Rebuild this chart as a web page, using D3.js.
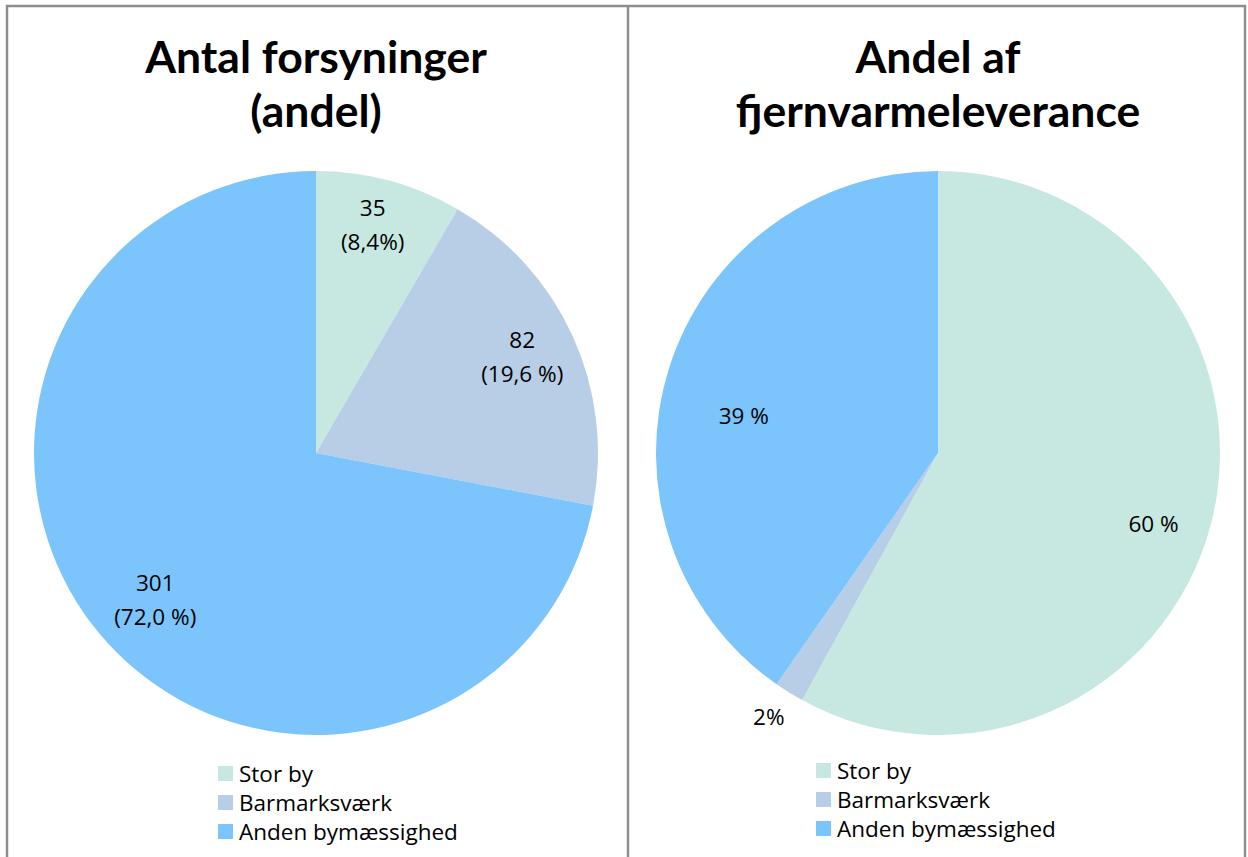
<!DOCTYPE html>
<html>
<head>
<meta charset="utf-8">
<script src="https://cdn.jsdelivr.net/npm/d3@7"></script>
<style>
  body { margin: 0; background: #fff; }
  svg { display: block; }
</style>
</head>
<body>
<div id="chart"></div>
<script>
// data
const categories = ["Stor by", "Barmarksværk", "Anden bymæssighed"];
const colors = ["#c6e8e1", "#b8cde6", "#7bc5fc"];

const countTitle = ["Antal forsyninger", "(andel)"];
const countValues = [35, 82, 301];
const countLabels = [["35", "(8,4%)"], ["82", "(19,6 %)"], ["301", "(72,0 %)"]];

const shareTitle = ["Andel af", "fjernvarmeleverance"];
const shareValues = [58.0, 1.7, 40.3];
const shareLabels = [["60 %"], ["2%"], ["39 %"]];

const chartWidth = 1248;
const chartHeight = 857;
const titleFont = "Lato, 'Open Sans', sans-serif";
const bodyFont = "'Open Sans', Lato, sans-serif";

var svg = d3.select("#chart").append("svg")
    .attr("width", chartWidth)
    .attr("height", chartHeight);

// panel frame
var frame = svg.append("g")
    .attr("stroke", "#8e8e8e")
    .attr("stroke-width", 2.5)
    .attr("fill", "none");
frame.append("path").attr("d", "M7,860 V6 H1245 V860");
frame.append("line").attr("x1", 628).attr("x2", 628).attr("y1", 6).attr("y2", 860);

// opts: legend position + small label nudges (Excel "best fit" placement)
function drawPie(cx, titleLines, values, labels, opts) {
    var g = svg.append("g");
    var cy = 453;
    var radius = 282;

    g.selectAll("text.title")
        .data(titleLines)
        .enter()
        .append("text")
        .attr("class", "title")
        .attr("x", cx)
        .attr("y", function(d, i) { return 73 + i * 54; })
        .attr("text-anchor", "middle")
        .style("font-family", titleFont)
        .style("font-weight", "bold")
        .style("font-size", "44.5px")
        .text(function(d) { return d; });

    var pie = d3.pie().sort(null).value(function(d) { return d; });
    var arcs = pie(values);
    var arc = d3.arc().innerRadius(0).outerRadius(radius);
    var labelArc = d3.arc().innerRadius(radius * 0.8).outerRadius(radius * 0.8);
    var outsideArc = d3.arc().innerRadius(radius * 1.11).outerRadius(radius * 1.11);

    var pg = g.append("g").attr("transform", "translate(" + cx + "," + cy + ")");
    pg.selectAll("path")
        .data(arcs)
        .enter()
        .append("path")
        .attr("d", arc)
        .attr("fill", function(d, i) { return colors[i]; });

    pg.selectAll("text.lbl")
        .data(arcs)
        .enter()
        .append("text")
        .attr("class", "lbl")
        .attr("transform", function(d, i) {
            var small = (d.endAngle - d.startAngle) < 0.2;
            var c = (small ? outsideArc : labelArc).centroid(d);
            var n = opts.nudge[i];
            return "translate(" + (c[0] + n[0]) + "," + (c[1] + n[1]) + ")";
        })
        .attr("text-anchor", "middle")
        .style("font-family", bodyFont)
        .style("font-size", "22.5px")
        .style("fill", "#000")
        .each(function(d, i) {
            var lines = labels[i];
            var t = d3.select(this);
            lines.forEach(function(s, j) {
                t.append("tspan")
                    .attr("x", 0)
                    .attr("y", (j - (lines.length - 1) / 2) * 34 + 8)
                    .text(s);
            });
        });

    // legend
    var lg = g.append("g").attr("transform", "translate(" + opts.legendX + "," + opts.legendY + ")");
    var row = lg.selectAll("g")
        .data(categories)
        .enter()
        .append("g")
        .attr("transform", function(d, i) { return "translate(0," + i * 29 + ")"; });
    row.append("rect")
        .attr("x", 0).attr("y", 0)
        .attr("width", 15).attr("height", 15)
        .attr("fill", function(d, i) { return colors[i]; });
    row.append("text")
        .attr("x", 21).attr("y", 15.5)
        .style("font-family", bodyFont)
        .style("font-size", "22.5px")
        .text(function(d) { return d; });
}

drawPie(316, countTitle, countValues, countLabels,
    { legendX: 218, legendY: 766, nudge: [[-2, -10], [1, -2], [13, 3]] });
drawPie(938, shareTitle, shareValues, shareLabels,
    { legendX: 816, legendY: 763, nudge: [[-3, 15], [-4, -2], [21, 31]] });
</script>
</body>
</html>
